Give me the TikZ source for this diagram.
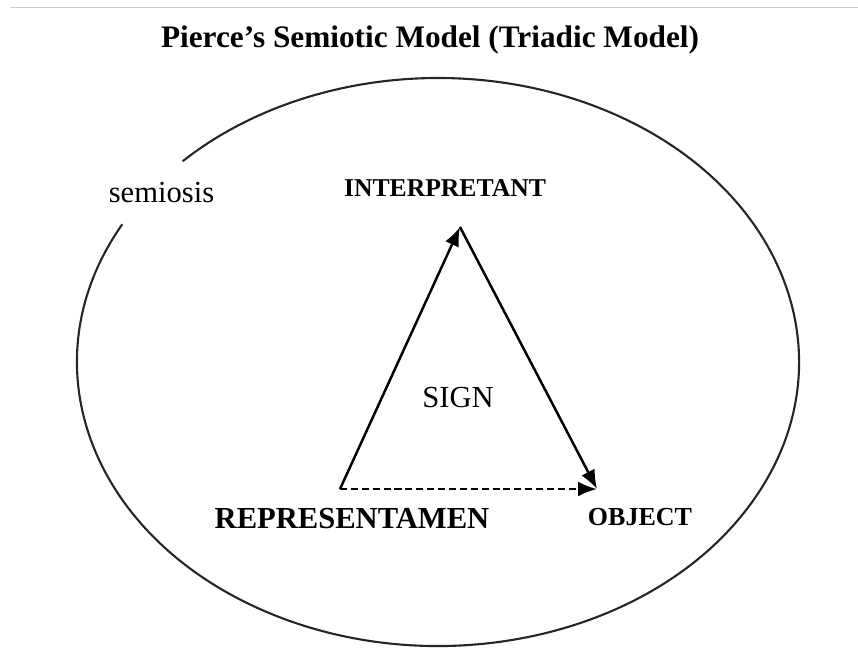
\documentclass[tikz,border=0pt]{standalone}
\usepackage{fontspec}
\setmainfont{Liberation Serif}
\usetikzlibrary{positioning,arrows.meta,calc}

\begin{document}
\begin{tikzpicture}[
    heading/.style={font=\fontsize{8.9}{10}\selectfont\bfseries},
    corner/.style={font=\fontsize{7.3}{9}\selectfont\bfseries},
    plain/.style={font=\fontsize{8.7}{10}\selectfont},
    side/.style={-{Latex[length=1.9mm, width=1.5mm]}, line width=0.7pt, black},
    ring/.style={line width=0.6pt, black!85}
]
\useasboundingbox (0, 0) rectangle (8.58, 6.58);

% page rule
\coordinate (ruleL) at (0.10, 6.51);
\coordinate (ruleR) at (8.58, 6.51);
\draw[black!20, very thin] (ruleL) -- (ruleR);

\node[heading] (title) at (4.30, 6.18) {Pierce’s Semiotic Model (Triadic Model)};

% semiosis ring, open at the upper left
\coordinate (centre) at (4.38, 2.96);
\draw[ring] ($(centre)+(151:3.61 and 2.84)$) arc[start angle=151, end angle=495, x radius=3.61, y radius=2.84];
\node[plain] (semiosis) at (1.615, 4.65) {semiosis};

% triangle corners
\coordinate (interp) at (4.60, 4.31);
\coordinate (repr) at (3.40, 1.69);
\coordinate (obj) at (5.97, 1.69);

% Arrows
\draw[side] (repr) -- (interp);
\draw[side] (interp) -- (obj);
\draw[side, dash pattern=on 2pt off 1.1pt] (repr) -- (obj);

% Labels
\node[corner] (interpretant) at (4.45, 4.70) {INTERPRETANT};
\node[plain] (sign) at (4.58, 2.60) {SIGN};
\node[corner, font=\fontsize{8.7}{10}\selectfont\bfseries] (representamen) at (3.52, 1.39) {REPRESENTAMEN};
\node[corner, font=\fontsize{7.4}{9}\selectfont\bfseries] (object) at (6.40, 1.41) {OBJECT};

\end{tikzpicture}
\end{document}
